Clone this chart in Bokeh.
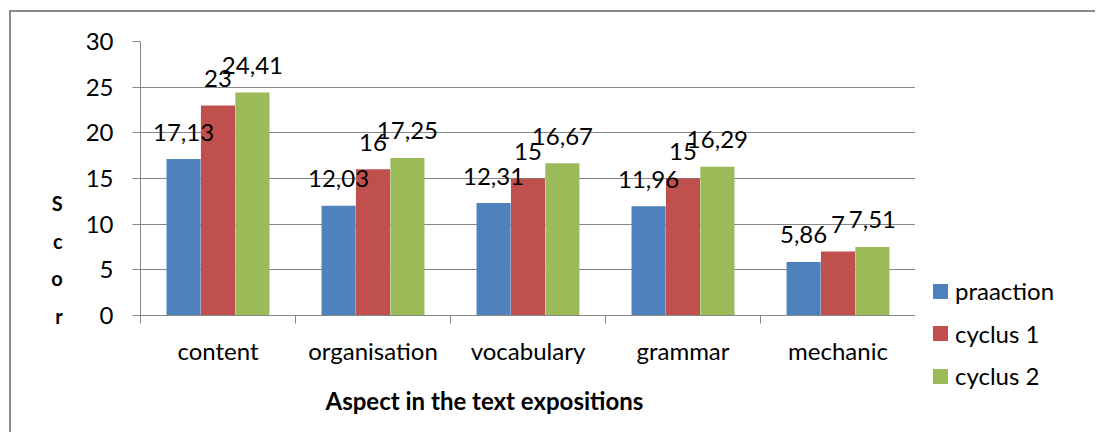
import numpy as np
from bokeh.plotting import figure
from bokeh.layouts import row
from bokeh.models import (ColumnDataSource, FixedTicker, CustomJSTickFormatter, Range1d,
                          Title, Div)
from bokeh.core.properties import value
from bokeh.embed import file_html
from bokeh.resources import INLINE

categories = ["content", "organisation", "vocabulary", "grammar", "mechanic"]
series_names = ["praaction", "cyclus 1", "cyclus 2"]
praaction = [17.13, 12.03, 12.31, 11.96, 5.86]
cyclus1 = [23, 16, 15, 15, 7]
cyclus2 = [24.41, 17.25, 16.67, 16.29, 7.51]
y_ticks = [0, 5, 10, 15, 20, 25, 30]
y_title_letters = ["S", "c", "o", "r"]
x_title = "Aspect in the text expositions"

colors = ["#4F81BD", "#C0504D", "#9BBB59"]
FONT = "Lato"
GRID = "#868686"

# ---------------- main chart ----------------
p = figure(width=904, height=420, output_backend="svg", toolbar_location=None,
           x_range=Range1d(0, len(categories)), y_range=Range1d(0, 30),
           min_border_left=129, min_border_right=0, min_border_top=29, min_border_bottom=117)
p.outline_line_color = None
p.background_fill_color = "white"
p.border_fill_color = "white"

centers = np.arange(len(categories)) + 0.5
offsets = [-0.222, 0.0, 0.222]
bar_w = 0.22

sources = []
for vals, off, col in zip([praaction, cyclus1, cyclus2], offsets, colors):
    src = ColumnDataSource(dict(
        x=centers + off,
        top=vals,
        lab=[f"{v:g}".replace(".", ",") for v in vals],
    ))
    sources.append(src)
    p.vbar(x="x", top="top", width=bar_w, bottom=0, source=src,
           fill_color=col, line_color=None)

for src in sources:
    p.text(x="x", y="top", text="lab", source=src, text_align="center",
           text_baseline="alphabetic", y_offset=-27, text_font=value(FONT),
           text_font_size="24px", text_color="black")

# y axis
p.yaxis.ticker = FixedTicker(ticks=y_ticks)
p.yaxis.axis_line_color = GRID
p.yaxis.major_tick_line_color = GRID
p.yaxis.major_tick_out = 8
p.yaxis.major_tick_in = 0
p.yaxis.minor_tick_line_color = None
p.yaxis.major_label_standoff = 19
p.yaxis.major_label_text_font = FONT
p.yaxis.major_label_text_font_size = "24px"
p.yaxis.major_label_text_color = "black"
p.yaxis.axis_label = "\n".join(y_title_letters) + "\n\n\n"
p.yaxis.axis_label_orientation = "horizontal"
p.yaxis.axis_label_text_font = FONT
p.yaxis.axis_label_text_font_size = "20px"
p.yaxis.axis_label_text_font_style = "bold"
p.yaxis.axis_label_text_color = "black"
p.yaxis.axis_label_text_line_height = 1.5625
p.yaxis.axis_label_standoff = 20
p.yaxis.axis_label_align = "start"

# x axis
p.xaxis.ticker = FixedTicker(ticks=list(centers), minor_ticks=list(range(len(categories) + 1)))
p.xaxis.formatter = CustomJSTickFormatter(args=dict(cats=categories),
                                          code="return cats[Math.floor(tick)];")
p.xaxis.axis_line_color = GRID
p.xaxis.major_tick_line_color = None
p.xaxis.major_tick_out = 0
p.xaxis.major_tick_in = 0
p.xaxis.minor_tick_line_color = GRID
p.xaxis.minor_tick_out = 8
p.xaxis.minor_tick_in = 0
p.xaxis.major_label_standoff = 12
p.xaxis.major_label_text_font = FONT
p.xaxis.major_label_text_font_size = "24px"
p.xaxis.major_label_text_color = "black"

p.xgrid.grid_line_color = None
p.ygrid.ticker = FixedTicker(ticks=y_ticks)
p.ygrid.grid_line_color = GRID
p.ygrid.grid_line_width = 1

# x title
p.add_layout(Title(text=x_title, align="left", offset=185, standoff=32,
                   text_font=FONT, text_font_size="24px", text_font_style="bold",
                   text_color="black"), "below")

# ---------------- legend (HTML panel to the right of the chart) ----------------
items = []
for i, (name, col) in enumerate(zip(series_names, colors)):
    cy = 279 + i * 42.5
    items.append(f'<div style="position:absolute;left:18px;top:{cy - 7.5}px;width:15px;'
                 f'height:15px;background:{col}"></div>')
    items.append(f'<div style="position:absolute;left:40px;top:{cy - 15}px;height:30px;'
                 f'line-height:30px;font-family:Lato;font-size:24px;color:black;'
                 f'white-space:nowrap">{name}</div>')
legend_html = ('<div style="position:relative;width:180px;height:420px;background:white">'
               + "".join(items) + "</div>")
legend_div = Div(text=legend_html, width=180, height=420, margin=(0, 0, 0, 0))

layout = row(p, legend_div, spacing=0)
layout.styles = {"margin-left": "9px", "margin-top": "10px",
                 "border-top": "2px solid #8c8c8c", "border-left": "2px solid #8c8c8c"}

open("out.html", "w").write(file_html(layout, INLINE))
